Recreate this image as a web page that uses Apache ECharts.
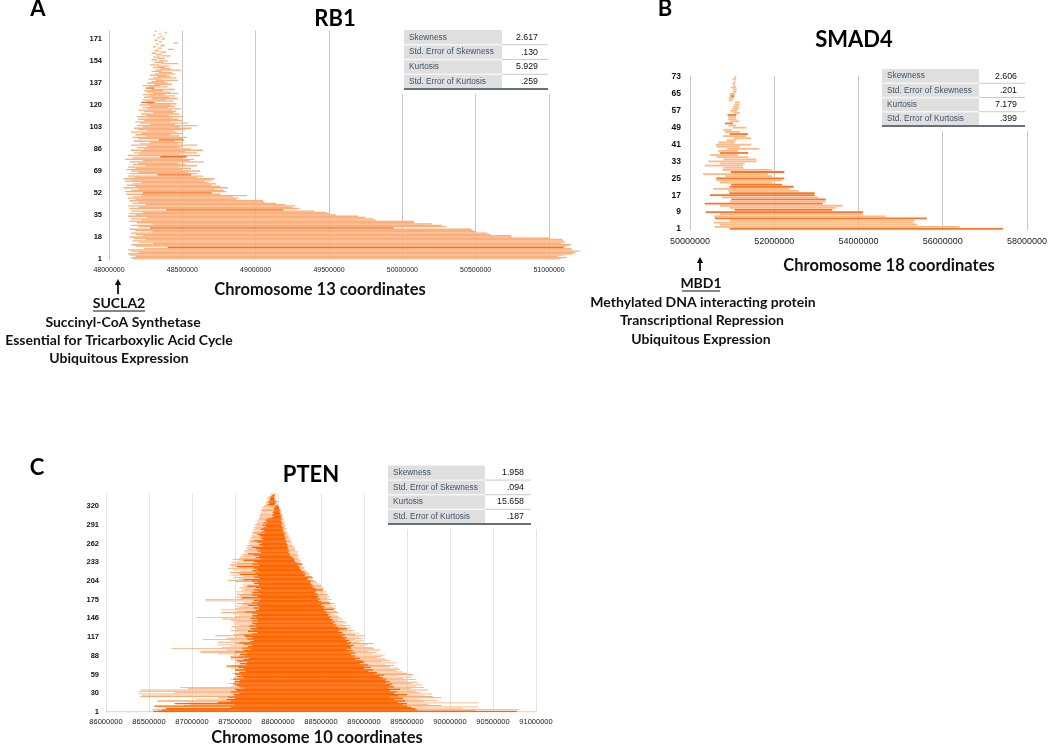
<!DOCTYPE html>
<html><head><meta charset="utf-8">
<script src="https://cdn.jsdelivr.net/npm/echarts@6/dist/echarts.min.js"></script>
<style>html,body{margin:0;padding:0;background:#fff}#c{width:1050px;height:746px}</style>
</head><body><div id="c"></div>
<script>
// ---------------- DATA (values in kb; converted to bp when building series) ----------------
const statLabels = ['Skewness', 'Std. Error of Skewness', 'Kurtosis', 'Std. Error of Kurtosis'];
const rb1Stats = ['2.617', '.130', '5.929', '.259'];
const smad4Stats = ['2.606', '.201', '7.179', '.399'];
const ptenStats = ['1.958', '.094', '15.658', '.187'];

// RB1 (rows 1..177)
const rb1Start = [
48160,48150,48180,48140,48130,48200,48150,48130,48240,48400,
48180,48150,48300,48200,48160,48250,48170,48140,48230,48180,
48150,48290,48180,48140,48280,48200,48150,48300,48190,48140,
48220,48150,48260,48130,48180,48140,48230,48150,48390,48140,
48200,48130,48250,48160,48200,48140,48180,48130,48160,48220,
48120,48230,48110,48150,48200,48100,48180,48120,48160,48220,
48110,48150,48100,48170,48130,48330,48140,48200,48150,48120,
48180,48130,48250,48160,48200,48140,48230,48110,48160,48350,
48130,48200,48170,48220,48150,48240,48190,48260,48150,48210,
48280,48170,48340,48200,48160,48250,48180,48220,48150,48260,
48200,48170,48230,48190,48280,48210,48180,48240,48200,48270,
48190,48250,48220,48300,48240,48200,48260,48230,48280,48210,
48260,48220,48250,48230,48290,48240,48270,48230,48300,48260,
48240,48290,48250,48270,48230,48310,48260,48290,48320,48270,
48300,48330,48280,48310,48340,48290,48320,48350,48300,48330,
48280,48360,48310,48340,48290,48330,48300,48360,48320,48290,
48350,48310,48400,48330,48300,48350,48320,48440,48340,48310,
48360,48330,48350,48300,48340,48380,48310];
const rb1End = [
51080,51120,51060,51100,51160,51180,51210,51160,51150,51100,
51120,51150,51080,51110,51100,51090,51000,50750,50740,50600,
50580,50500,50480,50470,49940,50300,50270,50200,50080,50080,
49820,49800,49750,49700,49550,49500,49480,49400,49190,49300,
49250,49270,49200,49140,49060,49050,48870,48880,48850,48940,
48760,48700,48800,48780,48720,48810,48760,48700,48730,48680,
48650,48700,48720,48600,48640,48560,48600,48540,48620,48500,
48560,48480,48600,48520,48470,48650,48550,48580,48500,48530,
48620,48480,48600,48520,48640,48560,48480,48500,48600,48470,
48500,48450,48510,48500,48530,48480,48420,48500,48460,48440,
48520,48560,48480,48600,48450,48540,48420,48500,48470,48430,
48500,48410,48480,48440,48460,48430,48490,48400,48450,48420,
48460,48310,48440,48390,48470,48410,48450,48380,48470,48420,
48370,48450,48310,48400,48350,48430,48400,48380,48470,48360,
48460,48420,48390,48450,48430,48360,48490,48420,48380,48410,
48340,48470,48370,48400,48330,48380,48350,48420,48360,48320,
48390,48340,48440,48360,48320,48380,48340,48470,48360,48330,
48380,48345,48365,48315,48355,48395,48325];
const rb1DarkRows = [10, 25, 39, 52, 66, 80, 93, 122, 133];

// SMAD4 (rows 1..73)
const smad4Start = [
50940,50590,50710,50560,50940,50590,50570,50710,50370,51060,
50940,50710,50350,50940,50980,50750,50470,50930,50910,50550,
50940,50980,50710,50630,50620,50830,50310,50970,50770,50790,
50350,50710,50430,50790,50630,50470,50710,50670,50880,50630,
50610,50670,50870,51040,50790,50940,50830,50790,51020,50910,
50830,50950,50900,50910,50890,51040,50960,51000,51020,51050,
51070,50920,50920,50960,50940,51010,51020,50970,51020,51000,
51040,51010,51050];
const smad4End = [
57430,56400,55390,55310,55330,55620,54640,54090,54110,53380,
53460,53620,53150,53220,53220,53050,52960,52960,52580,52360,
52460,52190,51950,52180,52240,51950,51850,52240,51940,51270,
51260,51300,51580,51570,51380,51140,51380,51140,51650,51180,
51450,51060,51100,51450,51340,51380,51180,50990,51340,51100,
51020,51170,51100,51090,51100,51180,51120,51160,51160,51170,
51180,51010,51040,51050,51070,51100,51110,51100,51080,51080,
51080,51090,51100];
const smad4Tone = 'DLLLLDLLDD' + 'LLDLDLDDLL' + 'DDLLDLLDLL' + 'LLLLLLDLLL' + 'LLLLLDLLLL' + 'DLLLDLLLLL' + 'LLLDLLLLLL' + 'LLL';

// PTEN (rows 1..339)
const ptenStart = [
86000,86550,86600,86650,86530,86700,86690,87450,86600,86560,
86900,87500,86980,86800,86950,87300,86590,87450,86600,87400,
87050,87500,87300,87420,86400,87500,86420,87480,86380,87550,
86800,87450,86380,87520,86400,87500,86950,87600,86860,87550,
87450,87520,87500,87480,87420,87550,87480,87500,87500,87560,
87450,87480,87520,87600,87480,87520,87550,87580,87500,87500,
87470,87550,87550,87620,87500,87500,87560,87600,87450,87540,
87520,87400,87480,87620,87540,87560,87500,87640,87550,87520,
87500,87600,87450,87660,87520,87450,87550,87620,87480,87560,
87300,87640,87090,87500,87100,87600,87400,87680,86760,87580,
87350,87650,87450,87700,87300,87600,87500,87550,87300,87680,
87450,87720,87130,87640,87400,87700,87500,87620,87270,87600,
87480,87700,87550,87760,87500,87650,87450,87720,87520,87680,
87500,87750,87460,87660,87550,87740,87500,87700,87480,87760,
87520,87700,87450,87760,87350,87680,87050,87740,87500,87700,
87550,87760,87480,87700,87340,87620,87520,87740,87340,87780,
87500,87720,87550,87780,87500,87650,87580,87760,87520,87700,
87600,87780,87150,87720,87160,87800,87550,87580,87500,87760,
87560,87700,87520,87800,87600,87700,87500,87760,87580,87720,
87620,87800,87550,87740,87600,87640,87650,87780,87580,87720,
87700,87760,87500,87700,87420,87600,87550,87780,87480,87720,
87600,87760,87450,87560,87520,87740,87440,87790,87560,87700,
87480,87760,87420,87720,87550,87520,87460,87780,87440,87700,
87520,87760,87460,87720,87540,87600,87470,87790,87540,87740,
87560,87780,87600,87720,87580,87650,87620,87800,87600,87760,
87620,87790,87650,87740,87630,87700,87660,87820,87640,87780,
87670,87810,87650,87760,87680,87720,87660,87830,87690,87800,
87680,87820,87700,87790,87690,87760,87710,87850,87700,87810,
87720,87840,87710,87800,87730,87830,87720,87860,87740,87820,
87730,87860,87750,87830,87760,87870,87750,87850,87770,87880,
87780,87920,87790,87950,87780,87930,87800,87950,87790,87940,
87810,87950,87800,87960,87820,87950,87810,87960,87830,87970,
87840,87880,87850,87900,87860,87890,87870,87910,87880,87900,
87870,87910,87880,87920,87890,87930,87910,87950,87920];
const ptenEnd = [
91000,90780,90300,89620,90800,89600,90150,89550,90330,89500,
89900,89450,89750,89500,90330,89400,89700,89480,89850,89350,
89650,89450,89900,89300,89800,89400,89700,89500,89790,89350,
89650,89380,89600,89300,89750,89420,89550,89280,89700,89350,
89600,89300,89680,89330,89550,89250,89620,89300,89500,89250,
89610,89260,89450,89220,89560,89180,89400,89230,89570,89120,
89500,89150,89450,89050,89380,89100,89420,89000,89400,89080,
89300,89000,89350,89050,89250,88950,89380,89000,89200,88980,
89300,88900,89250,88950,89150,88880,89200,88900,89240,88850,
89100,88900,89150,88820,89050,88870,89190,88800,89120,88850,
89100,88850,89000,88880,89050,88820,89110,88850,88950,88800,
89000,88830,88900,88780,88980,88800,88950,88750,89010,88780,
88900,88730,88950,88750,88850,88700,88880,88720,88800,88800,
88850,88700,88780,88660,88840,88680,88760,88640,88800,88660,
88780,88620,88700,88640,88750,88600,88720,88620,88700,88580,
88690,88590,88650,88560,88700,88570,88680,88540,88650,88650,
88670,88520,88640,88540,88670,88500,88620,88520,88660,88600,
88600,88500,88580,88470,88620,88490,88570,88460,88600,88470,
88560,88440,88580,88460,88540,88430,88570,88440,88530,88520,
88520,88430,88540,88400,88500,88410,88510,88390,88480,88380,
88460,88370,88440,88380,88420,88340,88400,88350,88410,88400,
88380,88310,88360,88320,88370,88290,88340,88300,88330,88270,
88320,88260,88300,88250,88310,88250,88280,88230,88290,88280,
88270,88220,88260,88200,88270,88190,88240,88190,88250,88170,
88230,88150,88240,88130,88220,88140,88230,88120,88240,88130,
88200,88120,88190,88110,88200,88120,88180,88100,88170,88110,
88160,88100,88170,88090,88150,88100,88140,88080,88150,88090,
88130,88080,88120,88070,88130,88080,88110,88070,88100,88060,
88100,88060,88090,88050,88100,88060,88080,88050,88090,88040,
88080,88040,88070,88050,88080,88040,88060,88030,88070,88040,
88060,88030,88050,88040,88060,88020,88050,88030,88040,88020,
88040,88020,88030,88020,88030,88010,88020,88010,88020,88000,
88000,87960,88010,87970,87990,87960,88000,87970,87980,87960,
87970,87960,87950,87960,87940,87960,87950,87970,87940];
const ptenTone =
'LDLDLDLDLD' + 'LDLDLDLDLD' + 'LDLDLDLDLD' + 'LDLDLDLDLD' + 'LDLDLDLDLD' +
'LDLDLDLDLD' + 'LDLDLDLDLD' + 'LDLDLDLDLD' + 'LDLDLDLDLD' + 'LDLDLDLDLD' +
'LDLDLDLDLD' + 'LDLDLDLDLD' + 'LDLDLDLDLD' + 'LDLDLDLDLD' + 'LDLDLDLDLD' +
'LDLDLDLDLD' + 'LDLDLDLDLD' + 'LDLDLDLDLD' + 'LDLDLDLDLD' + 'LDLDLDLDLD' +
'LDLDLDLDLD' + 'LDLDLDLDLD' + 'LDLDLDLDLD' + 'LDLDLDLDLD' + 'LDLDLDLDLD' +
'LDLDLDLDLD' + 'LDLDLDLDLD' + 'LDLDLDLDLD' + 'LDLDLDLDLD' + 'LDLDLDLDLD' +
'LDLDLDLDLD' + 'LDLDLDLDLD' + 'LDLDLDLDLD' + 'LDLDLDLDL';

// ---------------- BUILD ----------------
const KB = 1000;
function rowCats(n) { const a = []; for (let i = 1; i <= n; i++) a.push(String(i)); return a; }
function pick(starts, ends, keep) {
  const out = [];
  for (let i = 0; i < starts.length; i++) if (keep(i)) out.push([i, starts[i] * KB, ends[i] * KB]);
  return out;
}
function rangeBar(hf) {
  return function (params, api) {
    const row = api.value(0);
    const p0 = api.coord([api.value(1), row]);
    const p1 = api.coord([api.value(2), row]);
    const h = api.size([0, 1])[1] * hf;
    return {
      type: 'rect',
      shape: { x: p0[0], y: p0[1] - h / 2, width: Math.max(p1[0] - p0[0], 0.8), height: h },
      style: { fill: api.visual('color') }
    };
  };
}
const NUM = 'Liberation Sans, Arial, sans-serif';
const SANS = 'Lato, "Open Sans", sans-serif';

function xAxis(grid, min, max, interval, fs, margin, lineColor) {
  return {
    gridIndex: grid, type: 'value', min: min, max: max, interval: interval,
    axisLine: { show: false }, axisTick: { show: false },
    axisLabel: { formatter: v => String(v), fontSize: fs, color: '#222', margin: margin,
      fontFamily: NUM, showMaxLabel: (max % interval === 0) },
    splitLine: { show: true, showMaxLine: (max % interval === 0), lineStyle: { color: lineColor, width: 1 } }
  };
}
function yAxis(grid, n, interval, fs, margin) {
  return {
    gridIndex: grid, type: 'category', data: rowCats(n),
    axisLine: { show: false }, axisTick: { show: false }, splitLine: { show: false },
    axisLabel: { interval: interval, fontSize: fs, color: '#111', margin: margin, fontFamily: NUM, fontWeight: 'bold' }
  };
}
function series(idx, data, color, hf, z) {
  return {
    type: 'custom', xAxisIndex: idx, yAxisIndex: idx, renderItem: rangeBar(hf),
    encode: { x: [1, 2], y: 0 }, data: data, itemStyle: { color: color }, z: z, clip: true,
    animation: false, silent: true
  };
}

// graphic helpers
const G = [];
function txt(s, x, y, font, fill, align) {
  G.push({ type: 'text', z: 120, style: { text: s, x: x, y: y, font: font, fill: fill || '#000',
    textAlign: align || 'center', textVerticalAlign: 'middle' } });
}
function line(x1, y1, x2, y2, color, w) {
  G.push({ type: 'line', z: 115, shape: { x1: x1, y1: y1, x2: x2, y2: y2 }, style: { stroke: color, lineWidth: w } });
}
function rect(x, y, w, h, fill) {
  G.push({ type: 'rect', z: 110, shape: { x: x, y: y, width: w, height: h }, style: { fill: fill } });
}
function arrow(x, yTop, yBot) {
  line(x, yBot, x, yTop + 4, '#111', 1.8);
  G.push({ type: 'polygon', z: 116, shape: { points: [[x - 3.2, yTop + 5], [x + 3.2, yTop + 5], [x, yTop - 1]] }, style: { fill: '#111' } });
}
function table(x0, y0, w, split, rh, vals, valRight) {
  rect(x0 - 6, y0 - 3, w + 12, rh * 4 + 8, '#ffffff');
  rect(x0, y0, split - x0, rh * 4, '#dfdfdf');
  for (let i = 1; i < 4; i++) {
    line(x0, y0 + i * rh, split, y0 + i * rh, '#f6f6f6', 1.4);
    line(split, y0 + i * rh, x0 + w, y0 + i * rh, '#c9c9c9', 1);
  }
  line(x0, y0 + 4 * rh, x0 + w, y0 + 4 * rh, '#64717e', 2);
  for (let i = 0; i < 4; i++) {
    txt(statLabels[i], x0 + 5, y0 + (i + 0.5) * rh, '8.3px ' + NUM, '#3e5469', 'left');
    txt(vals[i], valRight, y0 + (i + 0.5) * rh, '8.8px ' + NUM, '#111', 'right');
  }
}

// panel letters and titles
txt('A', 38, 9, 'bold 22px ' + SANS);
txt('B', 665, 9, 'bold 22px ' + SANS);
txt('C', 37, 468, 'bold 22px ' + SANS);
txt('RB1', 335, 19, 'bold 22px ' + SANS);
txt('SMAD4', 854, 40, 'bold 22px ' + SANS);
txt('PTEN', 311, 475, 'bold 22px ' + SANS);
const AX = 'bold 16.5px ' + SANS;
txt('Chromosome 13 coordinates', 320, 290, AX, '#111');
txt('Chromosome 18 coordinates', 889, 266, AX, '#111');
txt('Chromosome 10 coordinates', 317, 738, AX, '#111');

// annotations
const AN = 'bold 14px ' + SANS;
arrow(118, 280, 294);
txt('SUCLA2', 119, 303, AN, '#111');
line(93, 311, 145, 311, '#111', 1);
txt('Succinyl-CoA Synthetase', 123, 322, AN, '#111');
txt('Essential for Tricarboxylic Acid Cycle', 119, 340, AN, '#111');
txt('Ubiquitous Expression', 119, 358, AN, '#111');

arrow(700, 258, 271);
txt('MBD1', 701, 283, AN, '#111');
line(682, 291, 720, 291, '#111', 1);
txt('Methylated DNA interacting protein', 703, 302, AN, '#111');
txt('Transcriptional Repression', 702, 320, AN, '#111');
txt('Ubiquitous Expression', 701, 339, AN, '#111');

// stats tables
table(404, 30, 144, 502, 14.75, rb1Stats, 538);
table(882, 69, 143, 979, 14.25, smad4Stats, 1017);
table(388, 465.5, 143, 485, 14.6, ptenStats, 524);

const rb1IsDark = i => rb1DarkRows.indexOf(i + 1) >= 0;

const option = {
  animation: false,
  backgroundColor: '#ffffff',
  grid: [
    { left: 109, top: 30.6, width: 476.7, height: 229 },
    { left: 690, top: 76, width: 339, height: 154 },
    { left: 106, top: 493.4, width: 430, height: 218.9 }
  ],
  xAxis: [
    xAxis(0, 48000000, 51250000, 500000, 7, 7, '#c6c6c6'),
    xAxis(1, 50000000, 58000000, 2000000, 9, 7, '#c6c6c6'),
    xAxis(2, 86000000, 91000000, 500000, 7.5, 6, '#e3e3e3')
  ],
  yAxis: [
    yAxis(0, rb1Start.length, 16, 7.5, 7),
    yAxis(1, smad4Start.length, 7, 8.5, 9),
    yAxis(2, ptenStart.length, 28, 7.5, 7)
  ],
  series: [
    series(0, pick(rb1Start, rb1End, i => !rb1IsDark(i)), '#fbb07c', 1.05, 3),
    series(0, pick(rb1Start, rb1End, rb1IsDark), '#f27025', 1, 4),
    series(1, pick(smad4Start, smad4End, i => smad4Tone[i] === 'L'), '#fdb885', 0.85, 3),
    series(1, pick(smad4Start, smad4End, i => smad4Tone[i] === 'D'), '#f8772a', 0.85, 4),
    series(2, pick(ptenStart, ptenEnd, i => ptenTone[i] === 'L'), '#fbaa72', 1.3, 3),
    series(2, pick(ptenStart, ptenEnd, i => ptenTone[i] === 'D'), '#ff6600', 2, 4)
  ],
  graphic: { elements: G }
};
const chart = echarts.init(document.getElementById('c'));
chart.setOption(option);
</script></body></html>
